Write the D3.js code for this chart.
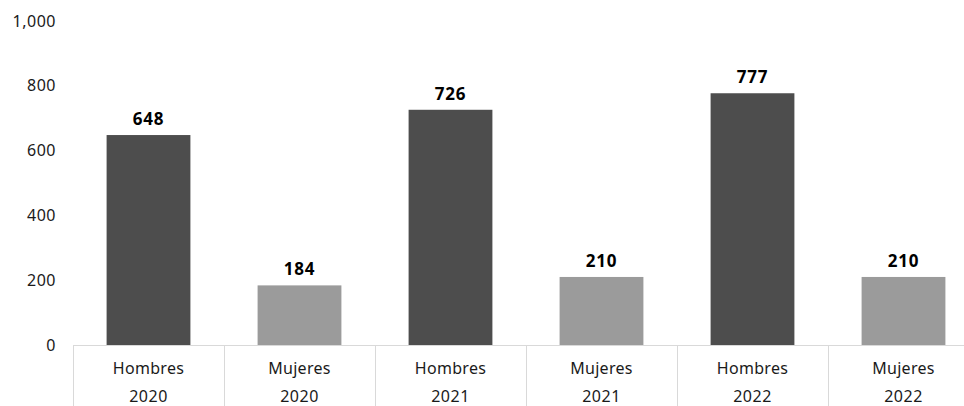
<!DOCTYPE html>
<html>
<head>
<meta charset="utf-8">
<script src="https://cdn.jsdelivr.net/npm/d3@7"></script>
<style>
  body { margin: 0; background: #fff; }
  svg { display: block; font-family: "Noto Sans", "Open Sans", sans-serif; }
</style>
</head>
<body>
<svg id="chart" width="964" height="406"></svg>
<script>
// data
var genders = ["Hombres", "Mujeres", "Hombres", "Mujeres", "Hombres", "Mujeres"];
var years = ["2020", "2020", "2021", "2021", "2022", "2022"];
var values = [648, 184, 726, 210, 777, 210];
var yTicks = [0, 200, 400, 600, 800, 1000];

var colors = { "Hombres": "#4d4d4d", "Mujeres": "#9b9b9b" };

var svg = d3.select("#chart");
var plotLeft = 73, plotRight = 979, plotTop = 21, base = 345;

var x = d3.scaleBand()
    .domain(d3.range(values.length))
    .range([plotLeft, plotRight])
    .paddingInner(0.445)
    .paddingOuter(0.2225);

var y = d3.scaleLinear().domain([0, 1000]).range([base, plotTop]);

// y tick labels
svg.append("g")
    .selectAll("text")
    .data(yTicks)
    .enter().append("text")
    .attr("x", 56)
    .attr("y", function (d) { return y(d); })
    .attr("dy", "0.35em")
    .attr("text-anchor", "end")
    .style("font-size", "16px")
    .style("letter-spacing", "0.5px")
    .style("fill", "#1a1a1a")
    .text(function (d) { return d3.format(",")(d); });

// bars
svg.append("g")
    .selectAll("rect")
    .data(values)
    .enter().append("rect")
    .attr("x", function (d, i) { return x(i); })
    .attr("y", function (d) { return y(d); })
    .attr("width", x.bandwidth())
    .attr("height", function (d) { return base - y(d); })
    .style("fill", function (d, i) { return colors[genders[i]]; });

// value labels
svg.append("g")
    .selectAll("text")
    .data(values)
    .enter().append("text")
    .attr("x", function (d, i) { return x(i) + x.bandwidth() / 2; })
    .attr("y", function (d) { return y(d) - 10; })
    .attr("text-anchor", "middle")
    .style("font-size", "17px")
    .style("font-weight", "bold")
    .style("letter-spacing", "0.8px")
    .style("fill", "#000")
    .text(function (d) { return d; });

// category axis: baseline + separators
var step = x.step();
var axis = svg.append("g").style("stroke", "#d9d9d9").style("stroke-width", 1);
axis.append("line")
    .attr("x1", plotLeft).attr("x2", plotRight)
    .attr("y1", base + 0.5).attr("y2", base + 0.5);
axis.selectAll("line.sep")
    .data(d3.range(values.length + 1))
    .enter().append("line")
    .attr("class", "sep")
    .attr("x1", function (i) { return Math.round(plotLeft + i * step) + 0.5; })
    .attr("x2", function (i) { return Math.round(plotLeft + i * step) + 0.5; })
    .attr("y1", base)
    .attr("y2", 406);

var labels = svg.append("g");
labels.selectAll("text.g")
    .data(genders)
    .enter().append("text")
    .attr("x", function (d, i) { return x(i) + x.bandwidth() / 2; })
    .attr("y", 374)
    .attr("text-anchor", "middle")
    .style("font-size", "16px")
    .style("letter-spacing", "0.3px")
    .style("fill", "#1a1a1a")
    .text(function (d) { return d; });
labels.selectAll("text.y")
    .data(years)
    .enter().append("text")
    .attr("x", function (d, i) { return x(i) + x.bandwidth() / 2; })
    .attr("y", 402)
    .attr("text-anchor", "middle")
    .style("font-size", "16px")
    .style("letter-spacing", "0.5px")
    .style("fill", "#1a1a1a")
    .text(function (d) { return d; });
</script>
</body>
</html>
